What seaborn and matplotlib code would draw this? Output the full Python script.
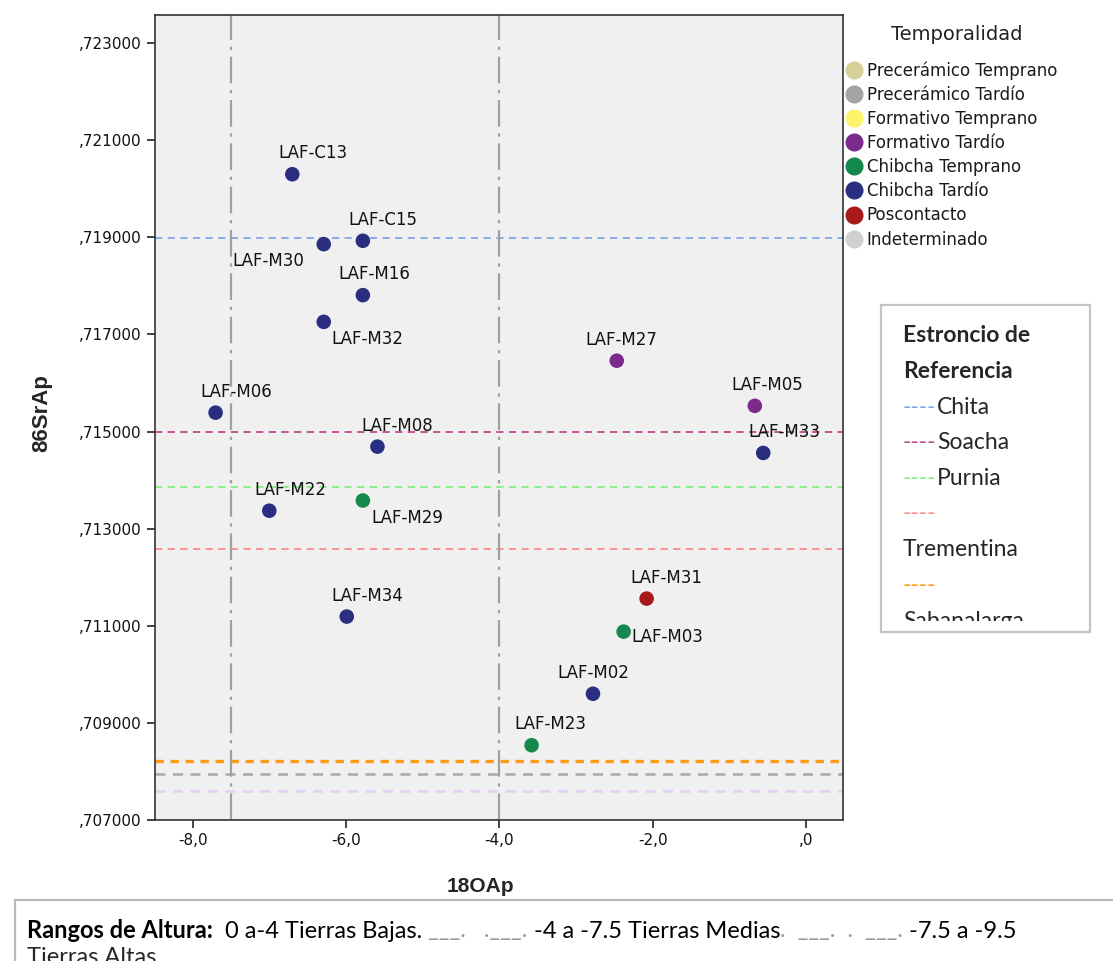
import matplotlib
matplotlib.use("Agg")
import matplotlib.pyplot as plt
import seaborn as sns
import pandas as pd
from matplotlib.lines import Line2D
from matplotlib.patches import Rectangle
from matplotlib.transforms import Bbox, TransformedBbox
from matplotlib.ticker import FuncFormatter, FixedLocator

# DATA

labels = ["LAF-C13", "LAF-C15", "LAF-M30", "LAF-M16", "LAF-M32", "LAF-M27",
          "LAF-M05", "LAF-M06", "LAF-M08", "LAF-M33", "LAF-M22", "LAF-M29",
          "LAF-M31", "LAF-M34", "LAF-M03", "LAF-M02", "LAF-M23"]
d18o = [-6.70, -5.78, -6.29, -5.78, -6.29, -2.47,
        -0.67, -7.70, -5.59, -0.56, -7.00, -5.78,
        -2.08, -5.99, -2.38, -2.78, -3.58]
sr86 = [0.72030, 0.71893, 0.71886, 0.71781, 0.71726, 0.71646,
        0.71553, 0.71539, 0.71469, 0.71456, 0.71337, 0.71358,
        0.71156, 0.71119, 0.71088, 0.70960, 0.70854]
periodo = ["Chibcha Tardío", "Chibcha Tardío", "Chibcha Tardío", "Chibcha Tardío",
           "Chibcha Tardío", "Formativo Tardío", "Formativo Tardío", "Chibcha Tardío",
           "Chibcha Tardío", "Chibcha Tardío", "Chibcha Tardío", "Chibcha Temprano",
           "Poscontacto", "Chibcha Tardío", "Chibcha Temprano", "Chibcha Tardío",
           "Chibcha Temprano"]

periodos = ["Precerámico Temprano", "Precerámico Tardío", "Formativo Temprano",
            "Formativo Tardío", "Chibcha Temprano", "Chibcha Tardío",
            "Poscontacto", "Indeterminado"]

ref_names = ["Chita", "Soacha", "Purnia", "Trementina", "Sabanalarga", "", ""]
ref_values = [0.71899, 0.71500, 0.71386, 0.71259, 0.70821, 0.70794, 0.70759]

altura_limites = [-7.5, -4.0]

x_ticks = [-8.0, -6.0, -4.0, -2.0, 0.0]
y_ticks = [0.707, 0.709, 0.711, 0.713, 0.715, 0.717, 0.719, 0.721, 0.723]

# STYLE

palette = {
    "Precerámico Temprano": "#d6cf98",
    "Precerámico Tardío": "#a3a3a3",
    "Formativo Temprano": "#fdf46a",
    "Formativo Tardío": "#7c2a8c",
    "Chibcha Temprano": "#13894b",
    "Chibcha Tardío": "#2a2e80",
    "Poscontacto": "#a8191c",
    "Indeterminado": "#d0d0d0",
}
ref_colors = ["#7fa8e6", "#c2488f", "#80f080", "#ff8a8a", "#ff9a14", "#a8a8a8", "#e6cdf2"]
ref_widths = [1.3, 1.3, 1.3, 1.3, 2.4, 1.8, 1.8]

# label offsets in pixels (dx, dy, ha, va)
label_offsets = {
    "LAF-C13": (21, 12, "center", "bottom"),
    "LAF-C15": (20, 12, "center", "bottom"),
    "LAF-M30": (-55, -8, "center", "top"),
    "LAF-M16": (11, 12, "center", "bottom"),
    "LAF-M32": (44, -8, "center", "top"),
    "LAF-M27": (5, 12, "center", "bottom"),
    "LAF-M05": (12, 12, "center", "bottom"),
    "LAF-M06": (21, 12, "center", "bottom"),
    "LAF-M08": (20, 12, "center", "bottom"),
    "LAF-M33": (21, 12, "center", "bottom"),
    "LAF-M22": (21, 12, "center", "bottom"),
    "LAF-M29": (44, -8, "center", "top"),
    "LAF-M31": (20, 12, "center", "bottom"),
    "LAF-M34": (21, 12, "center", "bottom"),
    "LAF-M03": (8, -5, "left", "center"),
    "LAF-M02": (0, 12, "center", "bottom"),
    "LAF-M23": (19, 12, "center", "bottom"),
}

W, H = 1113, 961


def px(x, y):
    # pixel (from top-left) to figure fraction
    return x / W, 1 - y / H


df = pd.DataFrame({"muestra": labels, "d18O": d18o, "sr86": sr86, "periodo": periodo})

sns.set_style("white")
plt.rcParams["font.family"] = ["DejaVu Sans"]

fig = plt.figure(figsize=(W / 100, H / 100), dpi=100)
ax = fig.add_axes([155 / W, (H - 820) / H, (843 - 155) / W, (820 - 15) / H])
ax.set_facecolor("#f0f0f0")

for v, c, lw in zip(ref_values, ref_colors, ref_widths):
    ax.axhline(v, color=c, lw=lw, ls=(0, (4, 3)) if lw < 2 else (0, (2.5, 2)), zorder=1)

for xv in altura_limites:
    ax.axvline(xv, color="#a0a0a0", lw=1.6, ls=(0, (12, 3, 1.5, 3)), zorder=1)

sns.scatterplot(data=df, x="d18O", y="sr86", hue="periodo", palette=palette,
                hue_order=periodos, s=110, edgecolor="none", legend=False, ax=ax, zorder=3)

for _, row in df.iterrows():
    dx, dy, ha, va = label_offsets[row["muestra"]]
    ax.annotate(row["muestra"], (row["d18O"], row["sr86"]),
                xytext=(dx * 0.72, dy * 0.72), textcoords="offset points",
                ha=ha, va=va, fontsize=12, color="#111111")

ax.set_xlim(-8.49, 0.48)
ax.set_ylim(0.707, 0.72358)
ax.xaxis.set_major_locator(FixedLocator(x_ticks))
ax.yaxis.set_major_locator(FixedLocator(y_ticks))


def fmt_x(v, pos):
    s = f"{abs(v):.1f}".replace(".", ",")
    if s.startswith("0,"):
        s = s[1:]
    return ("-" if v < -1e-9 else "") + s


def fmt_y(v, pos):
    return f"{v:.6f}".lstrip("0").replace(".", ",")


ax.xaxis.set_major_formatter(FuncFormatter(fmt_x))
ax.yaxis.set_major_formatter(FuncFormatter(fmt_y))
ax.tick_params(axis="both", which="major", direction="out", length=6, width=1.2,
               labelsize=11, color="#222222", labelcolor="#111111",
               bottom=True, left=True)
for sp in ax.spines.values():
    sp.set_color("#333333")
    sp.set_linewidth(1.2)
ax.set_xlabel("")
ax.set_ylabel("")

fig.text(*px(480, 887), "18OAp", ha="center", va="center", fontsize=15,
         fontweight="bold", family=["Liberation Sans Narrow", "Liberation Sans"])
fig.text(*px(42, 413), "86SrAp", ha="center", va="center", rotation=90, fontsize=16,
         fontweight="bold", family=["Liberation Sans Narrow", "Liberation Sans"])

# Temporalidad legend
fig.text(*px(957, 35), "Temporalidad", ha="center", va="center", fontsize=14, color="#222222")
handles = [Line2D([], [], marker="o", ls="none", markersize=13, markerfacecolor=palette[p],
                  markeredgecolor="none") for p in periodos]
leg = fig.legend(handles, periodos, loc="upper left", bbox_to_anchor=px(845, 61),
                 frameon=False, fontsize=12, handletextpad=0.2, labelspacing=0.37,
                 handlelength=1.1, borderaxespad=0, borderpad=0)
for t in leg.get_texts():
    t.set_color("#1a1a1a")

# Estroncio de referencia box
box_x0, box_y0, box_x1, box_y1 = 881, 305, 1090, 632
fig.patches.append(Rectangle(px(box_x0, box_y1), (box_x1 - box_x0) / W, (box_y1 - box_y0) / H,
                             transform=fig.transFigure, facecolor="white",
                             edgecolor="#c4c4c4", lw=1.6, zorder=0))
clip = TransformedBbox(Bbox([px(box_x0, 621), px(box_x1, box_y0 + 5)]), fig.transFigure)
box_font = ["Lato", "DejaVu Sans"]
fs_box = 16.5
fig.text(*px(903, 336), "Estroncio de", fontsize=fs_box, fontweight="bold", va="center",
         family=box_font)
fig.text(*px(903, 371), "Referencia", fontsize=fs_box, fontweight="bold", va="center",
         family=box_font)
y = 407
for name, col in zip(ref_names[:5], ref_colors[:5]):
    dash = fig.text(*px(903, y), "----", fontsize=fs_box, color=col, va="center", family=box_font)
    dash.set_clip_box(clip)
    dash.set_clip_on(True)
    if len(name) <= 6:
        t = fig.text(*px(937, y), name, fontsize=fs_box, va="center", family=box_font)
        y += 35.5
    else:
        y += 36.5
        t = fig.text(*px(903, y), name, fontsize=fs_box, va="center", family=box_font)
        y += 35
    t.set_clip_box(clip)
    t.set_clip_on(True)

# Rangos de altura box
fig.patches.append(Rectangle(px(15, 980), (W + 10) / W, 80 / H, transform=fig.transFigure,
                             facecolor="white", edgecolor="#b8b8b8", lw=1.6, zorder=0))
pieces = [
    ("Rangos de Altura:", "bold", "black"),
    ("  0 a-4 Tierras Bajas. ", "normal", "black"),
    ("___.   .___.", "normal", "#9a9a9a"),
    (" -4 a -7.5 Tierras Medias", "normal", "black"),
    (".  ___.  .  ___.", "normal", "#9a9a9a"),
    (" -7.5 a -9.5", "normal", "black"),
]
fig.canvas.draw()
renderer = fig.canvas.get_renderer()
xpos = 27 / W
for txt, weight, col in pieces:
    t = fig.text(xpos, 1 - 931 / H, txt, fontsize=17, fontweight=weight, color=col,
                 va="center", ha="left", family=box_font)
    bb = t.get_window_extent(renderer=renderer)
    xpos = bb.x1 / W
fig.text(27 / W, 1 - 957 / H, "Tierras Altas", fontsize=17, va="center", family=box_font)

fig.savefig("out.png", dpi=100)
